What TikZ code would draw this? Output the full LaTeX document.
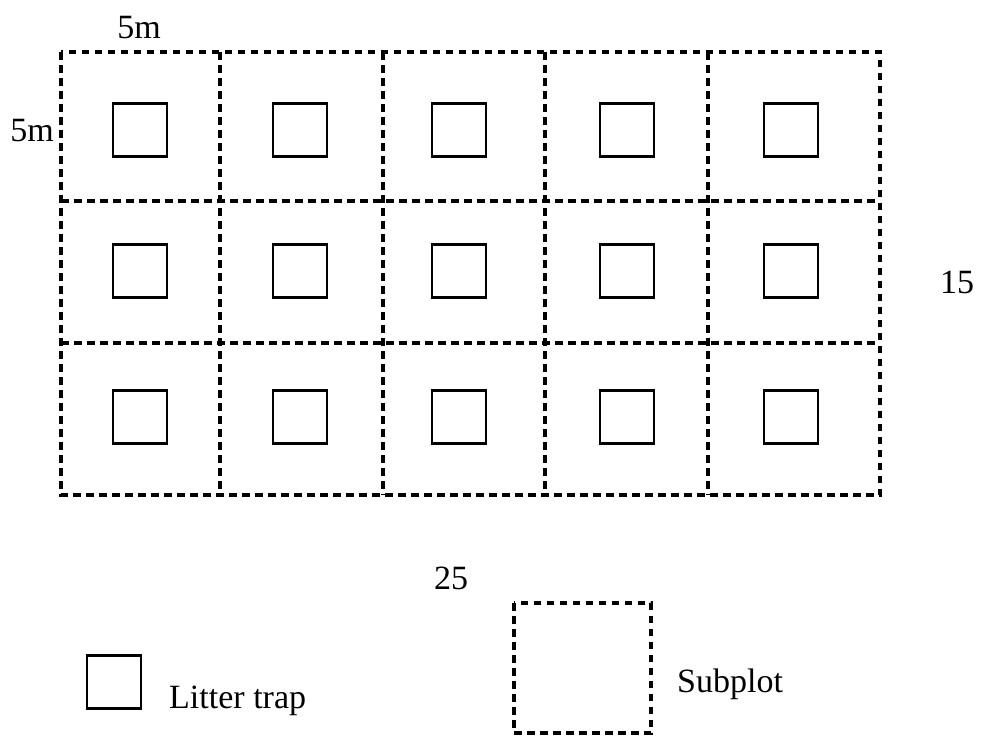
\documentclass[tikz,border=0pt]{standalone}
\usepackage{fontspec}
\setmainfont{Liberation Serif}
\begin{document}
\begin{tikzpicture}[x=1pt,y=-1pt,
  subplotline/.style={line width=3.2pt, dash pattern=on 7.5pt off 5.5pt},
  trapbox/.style={draw, line width=2.9pt, minimum width=54pt, minimum height=53pt, inner sep=0pt},
  lbl/.style={font=\fontsize{34}{36}\selectfont, inner sep=0pt}]
\useasboundingbox (0,0) rectangle (981,737);
% plot grid of 5 x 3 subplots
\draw[subplotline] (61,52) rectangle (880,495);
\foreach \x in {220,383,545,708} \draw[subplotline] (\x,52) -- (\x,495);
\foreach \y in {201,343} \draw[subplotline] (61,\y) -- (880,\y);
% litter traps, one per subplot
\foreach \cx [count=\i] in {140,300,459,627,791}
  \foreach \cy [count=\j] in {130,271,417}
    \node[trapbox] (t\i\j) at (\cx,\cy) {};
% dimension labels
\node[lbl] (topdim) at (139,28) {5m};
\node[lbl] (leftdim) at (32,131) {5m};
\node[lbl] (rightdim) at (957,282) {15};
\node[lbl] (bottomdim) at (451,578) {25};
% legend
\node[trapbox] (legtrap) at (114,682) {};
\node[lbl, anchor=base west] (legtraptext) at (169,708) {Litter trap};
\draw[subplotline] (514,603) rectangle (651,733);
\node[lbl, anchor=west] (legsubtext) at (677,684) {Subplot};
\end{tikzpicture}
\end{document}
